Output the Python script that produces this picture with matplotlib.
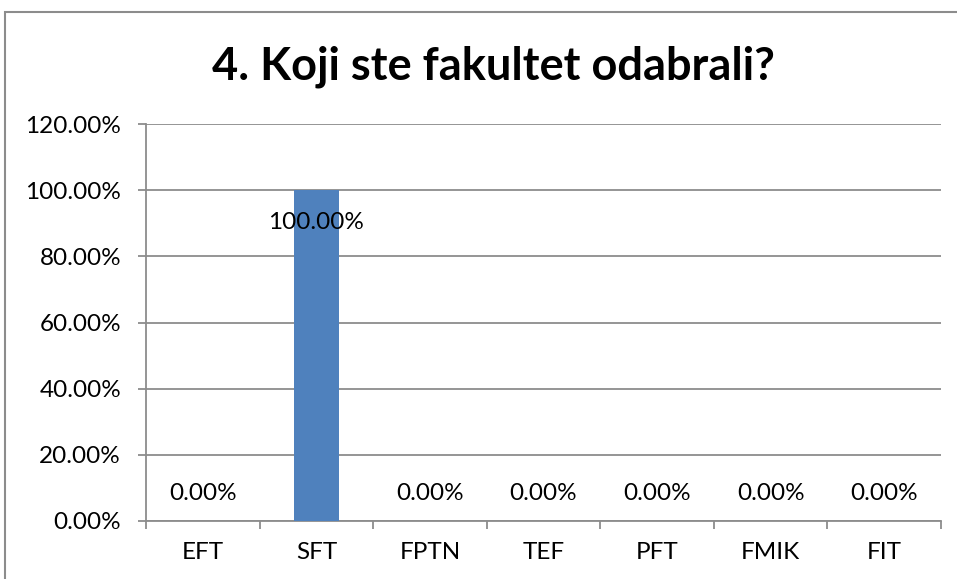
import matplotlib.pyplot as plt
from matplotlib.patches import Rectangle
import numpy as np

plt.rcParams['font.family'] = ['Lato', 'DejaVu Sans']

categories = ['EFT', 'SFT', 'FPTN', 'TEF', 'PFT', 'FMIK', 'FIT']
shares = [0.0, 100.0, 0.0, 0.0, 0.0, 0.0, 0.0]
title = '4. Koji ste fakultet odabrali?'

grey = '#8c8c8c'
fs = 17.5

fig = plt.figure(figsize=(9.57, 5.79), dpi=100)
ax = fig.add_axes([0.1526, 0.1002, 0.8307, 0.6856])

x = np.arange(len(categories))
ax.bar(x, shares, width=0.40, color='#4f81bd', zorder=3)

ax.set_xlim(-0.5, len(categories) - 0.5)
ax.set_ylim(0, 120)
yt = np.arange(0, 121, 20)
ax.set_yticks(yt)
ax.set_yticklabels(['{:.2f}%'.format(v) for v in yt], fontsize=fs)
ax.yaxis.grid(True, color=grey, linewidth=1.3, zorder=0)

# category labels centred, ticks between the categories
ax.set_xticks(np.arange(-0.5, len(categories), 1.0))
ax.set_xticklabels([])
ax.set_xticks(x, minor=True)
ax.set_xticklabels(categories, minor=True, fontsize=fs)
ax.tick_params(axis='x', which='minor', length=0, pad=15)
ax.tick_params(axis='x', which='major', length=6, color=grey, width=1.3)
ax.tick_params(axis='y', length=6, color=grey, width=1.3, pad=12)

for side in ['top', 'right']:
    ax.spines[side].set_visible(False)
for side in ['left', 'bottom']:
    ax.spines[side].set_color(grey)
    ax.spines[side].set_linewidth(1.3)

# data labels
for xi, v in zip(x, shares):
    off = -32 if v > 50 else 27
    ax.annotate('{:.2f}%'.format(v), (xi, v), xytext=(0, off),
                textcoords='offset pixels', ha='center', va='center',
                fontsize=fs, zorder=4)

fig.text(0.516, 0.884, title, ha='center', va='center',
         fontsize=32.5, fontweight='bold')

fig.patches.append(Rectangle((5 / 957, -0.2), 1.2, 1.2 - 12 / 579,
                             transform=fig.transFigure, fill=False,
                             edgecolor=grey, linewidth=1.5))

fig.savefig('out.png', dpi=100)
